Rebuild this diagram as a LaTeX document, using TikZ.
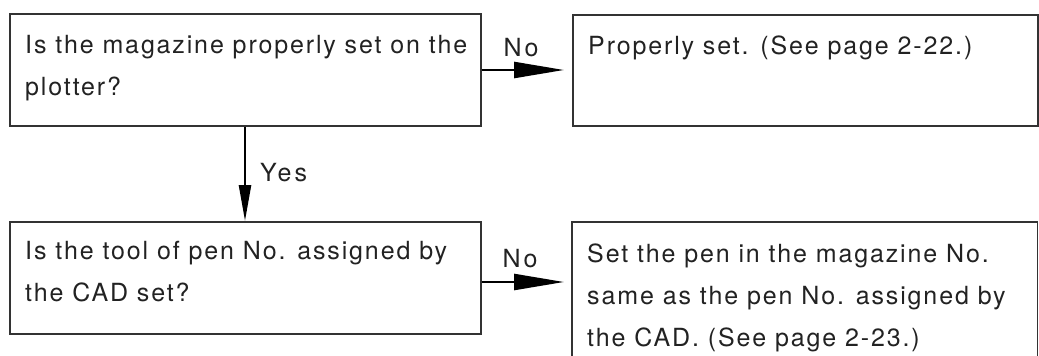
\documentclass[tikz,border=0pt]{standalone}
\usepackage{fontspec}
\setmainfont[LetterSpace=7.5]{TeX Gyre Heros}
\newfontfamily\lblfont[LetterSpace=12]{TeX Gyre Heros}
\usetikzlibrary{arrows.meta}
\definecolor{ink}{HTML}{222222}
\definecolor{frame}{HTML}{333333}
\tikzset{
  box/.style={draw=frame, line width=1.6pt, inner sep=0pt, anchor=north west, minimum width=#1},
  box/.default=471pt,
  boxtext/.style={anchor=north west, inner sep=0pt, align=left, text=ink,
    font=\fontsize{25}{42}\selectfont},
  lbl/.style={inner sep=0pt, text=ink, font=\lblfont\fontsize{25}{28}\selectfont},
  harrow/.style={line width=2.4pt, -{Triangle[length=50pt,width=16pt]}},
  varrow/.style={line width=2.4pt, -{Triangle[length=36pt,width=12pt]}}
}
\begin{document}
\begin{tikzpicture}[x=1pt,y=-1pt]
\useasboundingbox (0,0) rectangle (1039,356);
% boxes
\node[box=471pt, minimum height=112pt] (b1) at (9,13) {};
\node[box=465pt, minimum height=111pt] (b2) at (572,14) {};
\node[box=471pt, minimum height=112pt] (b3) at (9,221) {};
\node[inner sep=0pt, anchor=north west, minimum width=465pt, minimum height=150pt] (b4) at (572,222) {};
\draw[draw=frame, line width=1.6pt] (b4.south west) |- (b4.north east) -- (b4.south east);
% texts
\node[boxtext] (t1) at ([xshift=16pt,yshift=-22pt]b1.north west) {Is the magazine properly set on the\\plotter?};
\node[boxtext] (t2) at ([xshift=16pt,yshift=-22pt]b2.north west) {Properly set. (See page 2-22.)};
\node[boxtext] (t3) at ([xshift=16pt,yshift=-20pt]b3.north west) {Is the tool of pen No. assigned by\\the CAD set?};
\node[boxtext] (t4) at ([xshift=15pt,yshift=-22pt]b4.north west) {Set the pen in the magazine No.\\same as the pen No. assigned by\\the CAD. (See page 2-23.)};
% connectors
\coordinate (c1) at (b1.east |- 0,70);
\coordinate (c2) at ([xshift=-8pt]b2.west |- 0,70);
\draw[harrow] (c1) -- (c2);
\coordinate (c3) at (b1.south -| 245,0);
\coordinate (c4) at (b3.north -| 245,0);
\draw[varrow] (c3) -- (c4);
\coordinate (c5) at (b3.east |- 0,282);
\coordinate (c6) at ([xshift=-8pt]b4.west |- 0,282);
\draw[harrow] (c5) -- (c6);
% labels
\node[lbl, anchor=south] (n1) at (521,57) {No};
\node[lbl, anchor=west] (y1) at (260,173) {Yes};
\node[lbl, anchor=south] (n2) at (520,268) {No};
\end{tikzpicture}
\end{document}
